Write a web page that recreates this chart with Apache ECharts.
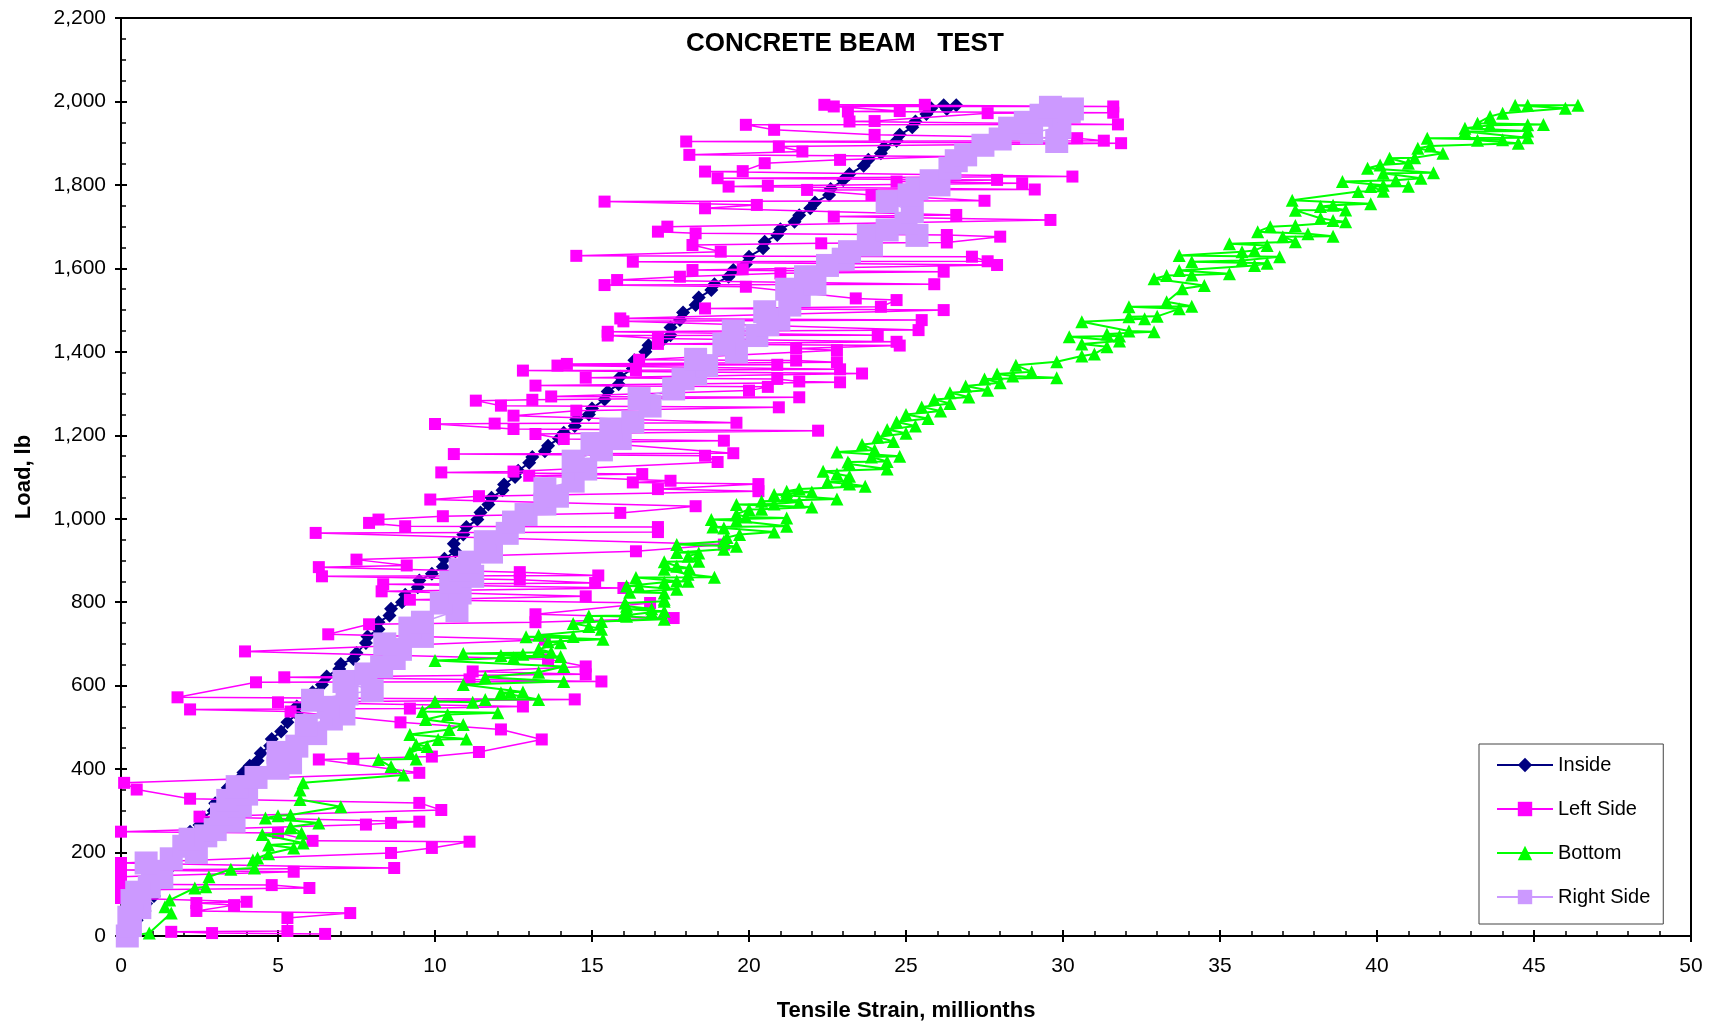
<!DOCTYPE html>
<html>
<head>
<meta charset="utf-8">
<script src="https://cdn.jsdelivr.net/npm/echarts@6/dist/echarts.min.js"></script>
<style>
html,body{margin:0;padding:0;background:#fff;}
#chart{width:1731px;height:1028px;}
</style>
</head>
<body>
<div id="chart"></div>
<script>
// Series names
const seriesNames = ['Inside', 'Left Side', 'Bottom', 'Right Side'];
const titleText = 'CONCRETE BEAM   TEST';
const xAxisName = 'Tensile Strain, millionths';
const yAxisName = 'Load, lb';

// [strain (millionths), load (lb)]
const insideData = [
[0.2,0],[0.4,20],[0.5,38],[0.75,60],[0.8,78],[1.05,96],[1.1,115],[1.35,135],[1.5,158],[1.5,178],[1.75,196],[1.9,215],[2.15,234],[2.2,250],[2.5,266],[2.6,284],[2.95,300],[3.0,318],[3.35,338],[3.4,355],[3.75,375],[3.9,392],[4.1,408],[4.35,420],[4.45,438],[4.75,456],[4.8,472],[5.1,490],[5.3,512],[5.6,532],[5.6,550],[5.95,568],[6.1,584],[6.4,602],[6.55,622],[6.95,640],[7.0,652],[7.4,664],[7.5,678],[7.8,702],[7.85,718],[8.2,735],[8.2,752],[8.55,768],[8.6,784],[8.95,800],[9.05,818],[9.45,836],[9.5,852],[9.9,868],[10.25,885],[10.3,904],[10.65,922],[10.6,940],[10.9,962],[11.0,980],[11.35,998],[11.45,1015],[11.7,1034],[11.8,1050],[12.15,1068],[12.2,1082],[12.55,1100],[12.65,1115],[13.0,1134],[13.1,1148],[13.5,1162],[13.6,1175],[13.95,1192],[14.1,1206],[14.45,1222],[14.5,1238],[14.9,1250],[15.0,1264],[15.4,1286],[15.5,1305],[15.85,1322],[15.9,1340],[16.3,1360],[16.35,1380],[16.7,1400],[16.8,1416],[17.25,1428],[17.5,1440],[17.5,1458],[17.8,1476],[17.9,1494],[18.3,1512],[18.4,1530],[18.8,1548],[18.9,1562],[19.35,1580],[19.5,1596],[19.9,1610],[20.0,1628],[20.45,1648],[20.5,1664],[20.9,1680],[21.0,1694],[21.45,1712],[21.6,1727],[21.95,1744],[22.1,1758],[22.55,1776],[22.6,1790],[23.0,1812],[23.2,1826],[23.65,1846],[23.8,1860],[24.2,1876],[24.3,1890],[24.7,1906],[24.8,1920],[25.2,1938],[25.3,1952],[25.65,1970],[25.8,1984],[26.2,1991],[26.3,1982],[26.6,1991]
];

const leftSideData = [
[6.5,5],[2.9,7],[1.6,10],[5.3,12],[5.3,43],[7.3,55],[2.4,60],[3.6,74],[2.4,79],[4.0,82],[0,91],[0,103],[0,110],[6.0,115],[4.8,122],[0,124],[0,142],[5.5,154],[0,158],[8.7,163],[0,175],[8.6,199],[9.9,211],[11.1,226],[6.1,228],[5.0,247],[0,250],[7.8,267],[8.6,271],[9.5,274],[2.5,286],[10.2,302],[9.5,319],[2.2,329],[0.5,351],[0.1,367],[9.5,391],[6.3,423],[7.4,425],[9.9,430],[11.4,441],[13.4,471],[12.1,495],[8.9,512],[5.4,538],[2.2,543],[9.2,545],[12.8,550],[5.0,560],[14.45,567],[1.8,572],[4.3,608],[15.3,610],[11.1,615],[5.2,620],[14.8,627],[11.2,634],[14.8,646],[13.6,663],[3.95,682],[13.5,710],[6.6,723],[7.9,747],[13.2,752],[17.6,762],[13.2,771],[16.85,798],[9.2,806],[14.8,814],[8.3,826],[16.0,834],[8.35,843],[15.1,846],[12.7,854],[6.4,862],[15.2,864],[12.7,872],[6.3,884],[9.1,888],[7.5,902],[16.4,922],[19.2,938],[6.2,966],[17.1,968],[17.1,980],[9.05,982],[7.9,990],[8.2,998],[10.25,1006],[15.9,1014],[18.3,1030],[9.85,1046],[11.4,1054],[20.3,1066],[17.1,1071],[20.3,1083],[16.3,1087],[17.5,1091],[13.0,1103],[16.6,1107],[10.2,1111],[12.5,1113],[19.0,1136],[18.6,1151],[10.6,1155],[19.5,1157],[14.9,1183],[19.2,1187],[14.1,1191],[13.2,1203],[22.2,1211],[12.5,1215],[10.0,1227],[11.9,1228],[19.6,1230],[12.5,1247],[14.5,1259],[20.95,1267],[12.1,1271],[11.3,1283],[13.1,1285],[21.6,1291],[13.7,1293],[20.0,1307],[20.6,1316],[13.2,1319],[22.9,1327],[21.6,1329],[20.9,1335],[14.8,1338],[23.6,1348],[12.8,1355],[16.4,1356],[22.9,1358],[13.9,1367],[20.9,1369],[14.2,1371],[22.8,1375],[21.5,1379],[16.5,1381],[22.8,1404],[21.5,1408],[24.8,1415],[17.1,1419],[24.7,1424],[17.1,1432],[15.5,1439],[24.1,1440],[15.5,1448],[25.4,1452],[16.0,1473],[25.5,1476],[15.9,1480],[26.2,1500],[18.6,1504],[24.2,1508],[24.7,1524],[23.4,1528],[19.9,1556],[15.4,1560],[25.9,1562],[15.8,1572],[17.8,1580],[21.0,1588],[26.2,1592],[18.2,1596],[19.8,1598],[27.9,1608],[16.3,1616],[27.6,1617],[27.1,1628],[14.5,1630],[19.1,1640],[18.2,1656],[22.3,1660],[26.3,1662],[28.0,1676],[26.3,1680],[18.3,1684],[17.1,1688],[17.4,1700],[29.6,1716],[22.7,1724],[26.6,1728],[18.6,1744],[20.25,1752],[15.4,1760],[27.5,1762],[23.9,1776],[21.85,1788],[29.1,1789],[19.35,1796],[20.6,1798],[28.7,1804],[24.7,1808],[27.9,1812],[19.0,1816],[30.3,1820],[18.6,1832],[19.8,1833],[20.5,1852],[22.9,1860],[26.5,1868],[18.1,1872],[21.7,1880],[20.95,1892],[31.85,1900],[18.0,1904],[31.3,1906],[30.45,1912],[24.0,1920],[20.8,1932],[19.9,1944],[31.75,1945],[23.2,1952],[24.0,1953],[27.6,1972],[31.6,1973],[23.15,1976],[24.8,1977],[22.7,1988],[31.6,1988],[22.4,1992],[25.6,1992]
];

const bottomData = [
[0.3,0],[0.9,7],[1.6,55],[1.4,70],[1.55,86],[2.35,115],[2.7,118],[2.8,142],[3.5,160],[4.25,163],[4.2,182],[4.35,187],[4.7,197],[5.5,211],[4.7,218],[5.8,223],[4.5,243],[5.75,247],[5.4,262],[6.3,271],[4.6,283],[5.0,288],[5.4,290],[7.0,310],[5.7,327],[5.7,350],[5.8,367],[9.0,386],[8.6,406],[8.2,423],[9.4,424],[9.2,439],[9.75,454],[9.4,459],[10.1,471],[11.0,472],[9.2,483],[10.45,495],[10.9,507],[9.7,519],[10.4,531],[12.0,535],[9.6,538],[10.0,562],[11.2,560],[11.6,567],[13.3,567],[12.1,583],[12.4,584],[12.8,585],[10.9,603],[14.1,610],[11.6,620],[13.3,632],[14.1,646],[10.0,660],[12.5,667],[14.0,670],[12.1,672],[12.8,675],[10.9,677],[13.7,680],[13.3,687],[14.0,703],[13.6,705],[15.35,711],[12.9,717],[14.4,718],[13.3,721],[15.3,735],[14.9,742],[14.4,749],[15.3,754],[17.3,759],[16.1,766],[14.9,767],[16.0,768],[16.9,776],[17.3,778],[16.1,783],[16.9,784],[16.1,790],[16.05,798],[17.3,802],[17.3,807],[17.3,822],[16.2,824],[17.7,831],[16.5,838],[16.1,839],[17.3,848],[18.06,850],[17.7,851],[16.4,859],[18.9,860],[18.06,867],[17.3,879],[18.1,882],[17.7,886],[17.3,897],[18.4,898],[18.06,910],[18.4,918],[17.7,919],[19.2,927],[19.6,934],[17.7,938],[19.2,946],[19.3,955],[19.7,962],[20.8,968],[19.2,978],[18.85,980],[21.2,982],[19.6,995],[18.8,998],[21.2,1002],[19.9,1004],[19.6,1011],[20.0,1022],[20.4,1023],[22.0,1028],[19.6,1034],[20.8,1035],[21.6,1040],[20.4,1042],[22.8,1047],[20.8,1058],[21.2,1059],[22.0,1064],[21.2,1066],[21.6,1071],[23.7,1078],[23.2,1083],[22.5,1088],[23.1,1091],[23.2,1102],[22.8,1107],[22.36,1114],[24.4,1119],[23.2,1131],[23.15,1136],[24.4,1137],[23.9,1148],[24.8,1150],[22.8,1160],[24.0,1165],[23.6,1178],[24.6,1185],[24.1,1196],[25.0,1205],[24.4,1214],[25.3,1222],[24.7,1232],[25.7,1240],[25.0,1250],[26.1,1258],[25.5,1268],[26.4,1276],[25.9,1286],[27.0,1292],[26.4,1302],[27.6,1308],[26.9,1318],[28.0,1326],[27.5,1335],[29.8,1338],[28.4,1342],[27.9,1347],[29.0,1352],[28.5,1368],[29.8,1376],[30.6,1390],[31.0,1395],[31.4,1412],[30.6,1419],[31.8,1426],[30.2,1436],[31.8,1438],[31.4,1443],[32.9,1448],[32.1,1450],[30.6,1472],[32.6,1479],[32.1,1484],[33.0,1485],[33.7,1503],[32.1,1508],[34.1,1509],[33.3,1520],[33.8,1551],[34.5,1559],[32.9,1575],[33.3,1583],[34.1,1584],[35.3,1587],[33.7,1595],[36.1,1607],[36.5,1612],[34.1,1616],[35.7,1619],[36.9,1628],[33.7,1631],[35.7,1640],[36.1,1643],[36.5,1655],[35.3,1659],[37.4,1664],[37.0,1676],[38.6,1677],[37.8,1683],[36.2,1688],[36.6,1700],[37.4,1703],[39.0,1712],[38.6,1715],[38.2,1720],[37.4,1739],[39.0,1740],[38.2,1748],[38.6,1751],[39.8,1755],[37.3,1763],[39.4,1784],[40.2,1785],[39.8,1796],[41.0,1797],[40.2,1799],[38.9,1808],[40.6,1811],[41.4,1816],[40.2,1828],[41.8,1829],[39.7,1840],[40.1,1848],[41.0,1852],[40.4,1864],[41.2,1865],[42.1,1876],[41.3,1888],[41.7,1893],[44.5,1900],[43.2,1907],[44.0,1908],[41.6,1912],[44.8,1913],[42.8,1928],[44.8,1929],[42.8,1936],[43.6,1943],[44.8,1944],[45.3,1945],[43.2,1948],[43.6,1964],[44.0,1972],[46.0,1984],[44.4,1991],[44.8,1991],[46.4,1991]
];

const rightSideData = [
[0.2,0],[0.3,25],[0.25,45],[0.6,68],[0.35,85],[0.5,105],[0.9,118],[1.3,140],[1.0,155],[0.8,175],[1.6,185],[2.4,200],[2.0,215],[2.2,232],[2.7,240],[3.0,255],[3.6,275],[3.2,292],[3.8,312],[3.4,325],[4.0,340],[3.7,358],[4.3,380],[5.0,402],[5.4,415],[5.0,440],[5.6,455],[6.2,485],[5.9,505],[6.7,520],[7.1,532],[6.6,548],[6.1,565],[7.2,580],[8.0,588],[7.1,610],[7.8,628],[8.3,645],[8.7,665],[8.9,687],[8.4,700],[9.6,718],[9.2,738],[9.6,752],[10.7,780],[10.2,798],[10.8,822],[10.5,848],[11.2,862],[10.8,878],[11.1,896],[11.8,920],[11.6,945],[12.3,965],[12.5,992],[12.9,1010],[13.5,1035],[13.9,1054],[13.5,1072],[14.4,1090],[14.8,1119],[14.4,1138],[15.3,1165],[15.0,1180],[15.9,1192],[15.6,1215],[16.3,1232],[16.85,1270],[16.5,1288],[17.6,1311],[17.9,1335],[18.3,1347],[18.65,1367],[18.3,1382],[19.6,1400],[19.2,1418],[20.25,1439],[19.5,1450],[20.6,1465],[20.95,1478],[20.5,1496],[21.3,1512],[21.6,1535],[21.2,1550],[22.1,1562],[21.8,1580],[22.5,1607],[23.0,1622],[23.2,1640],[23.9,1656],[23.8,1679],[24.4,1692],[25.35,1679],[25.0,1708],[25.2,1736],[24.4,1760],[25.1,1776],[25.35,1791],[26.05,1800],[25.8,1810],[26.4,1840],[26.6,1858],[26.9,1872],[27.45,1895],[28.0,1910],[29.8,1904],[28.3,1936],[29.0,1925],[29.9,1938],[28.8,1950],[29.3,1967],[30.3,1982],[29.6,1986],[30.2,1976]
];

// axis ranges / ticks
const xMin = 0, xMax = 50, xStep = 5;
const yMin = 0, yMax = 2200, yStep = 200;

const FONT = "'Liberation Sans', Arial, sans-serif";
const chart = echarts.init(document.getElementById('chart'), null, {renderer: 'canvas'});

function fmtThousands(v) {
  return String(v).replace(/\B(?=(\d{3})+(?!\d))/g, ',');
}

const gridPos = {left: 121, right: 40, top: 18, bottom: 92};

const option = {
  backgroundColor: '#ffffff',
  animation: false,
  title: {
    text: titleText,
    left: 686,
    top: 31,
    padding: 0,
    textStyle: {fontFamily: FONT, fontSize: 26, fontWeight: 'bold', color: '#000'}
  },
  grid: Object.assign({show: true, borderColor: '#000', borderWidth: 2, backgroundColor: 'transparent', containLabel: false}, gridPos),
  legend: {
    data: seriesNames,
    orient: 'vertical',
    left: 1479,
    top: 744,
    itemWidth: 56,
    itemHeight: 18,
    itemGap: 24,
    padding: [11, 13, 17, 17],
    borderColor: '#444',
    borderWidth: 1,
    backgroundColor: '#fff',
    textStyle: {fontFamily: FONT, fontSize: 20, color: '#000', lineHeight: 20}
  },
  xAxis: [
    {
      type: 'value', min: xMin, max: xMax, interval: xStep,
      position: 'bottom',
      name: xAxisName, nameLocation: 'middle', nameGap: 64,
      nameTextStyle: {fontFamily: FONT, fontSize: 22, fontWeight: 'bold', color: '#000'},
      axisLine: {show: true, lineStyle: {color: '#000', width: 2}},
      axisTick: {show: true, inside: false, length: 6, lineStyle: {color: '#000', width: 2}},
      axisLabel: {fontFamily: FONT, fontSize: 21, color: '#000', margin: 20},
      splitLine: {show: false}
    },
    {
      type: 'value', min: xMin, max: xMax, interval: xStep,
      position: 'bottom', offset: 0,
      axisLine: {show: false},
      axisTick: {show: true, inside: true, length: 6, lineStyle: {color: '#000', width: 2}},
      minorTick: {show: true, splitNumber: 5, length: 5, lineStyle: {color: '#000', width: 1.5}},
      axisLabel: {show: false},
      splitLine: {show: false}
    }
  ],
  yAxis: [
    {
      type: 'value', min: yMin, max: yMax, interval: yStep,
      position: 'left',
      name: yAxisName, nameLocation: 'middle', nameGap: 86,
      nameTextStyle: {fontFamily: FONT, fontSize: 22, fontWeight: 'bold', color: '#000'},
      axisLine: {show: true, lineStyle: {color: '#000', width: 2}},
      axisTick: {show: true, inside: false, length: 6, lineStyle: {color: '#000', width: 2}},
      axisLabel: {fontFamily: FONT, fontSize: 21, color: '#000', margin: 15, formatter: fmtThousands},
      splitLine: {show: false}
    },
    {
      type: 'value', min: yMin, max: yMax, interval: yStep,
      position: 'left', offset: 0,
      axisLine: {show: false},
      axisTick: {show: true, inside: true, length: 6, lineStyle: {color: '#000', width: 2}},
      minorTick: {show: true, splitNumber: 4, length: 5, lineStyle: {color: '#000', width: 1.5}},
      axisLabel: {show: false},
      splitLine: {show: false}
    }
  ],
  series: [
    {
      name: seriesNames[0], type: 'line', data: insideData,
      xAxisIndex: 0, yAxisIndex: 0, z: 2,
      symbol: 'diamond', symbolSize: 14, showSymbol: true, showAllSymbol: true,
      lineStyle: {color: '#000080', width: 2},
      itemStyle: {color: '#000080'},
      emphasis: {disabled: true}
    },
    {
      name: seriesNames[1], type: 'line', data: leftSideData,
      xAxisIndex: 0, yAxisIndex: 0, z: 3,
      symbol: 'rect', symbolSize: 12, showSymbol: true, showAllSymbol: true,
      lineStyle: {color: '#FF00FF', width: 1.5},
      itemStyle: {color: '#FF00FF'},
      emphasis: {disabled: true}
    },
    {
      name: seriesNames[2], type: 'line', data: bottomData,
      xAxisIndex: 0, yAxisIndex: 0, z: 4,
      symbol: 'triangle', symbolSize: 13, showSymbol: true, showAllSymbol: true,
      lineStyle: {color: '#00FF00', width: 2},
      itemStyle: {color: '#00FF00'},
      emphasis: {disabled: true}
    },
    {
      name: seriesNames[3], type: 'line', data: rightSideData,
      xAxisIndex: 0, yAxisIndex: 0, z: 5,
      symbol: 'rect', symbolSize: 23, showSymbol: true, showAllSymbol: true,
      lineStyle: {color: '#CC99FF', width: 1.5},
      itemStyle: {color: '#CC99FF'},
      emphasis: {disabled: true}
    }
  ]
};
chart.setOption(option);
</script>
</body>
</html>
